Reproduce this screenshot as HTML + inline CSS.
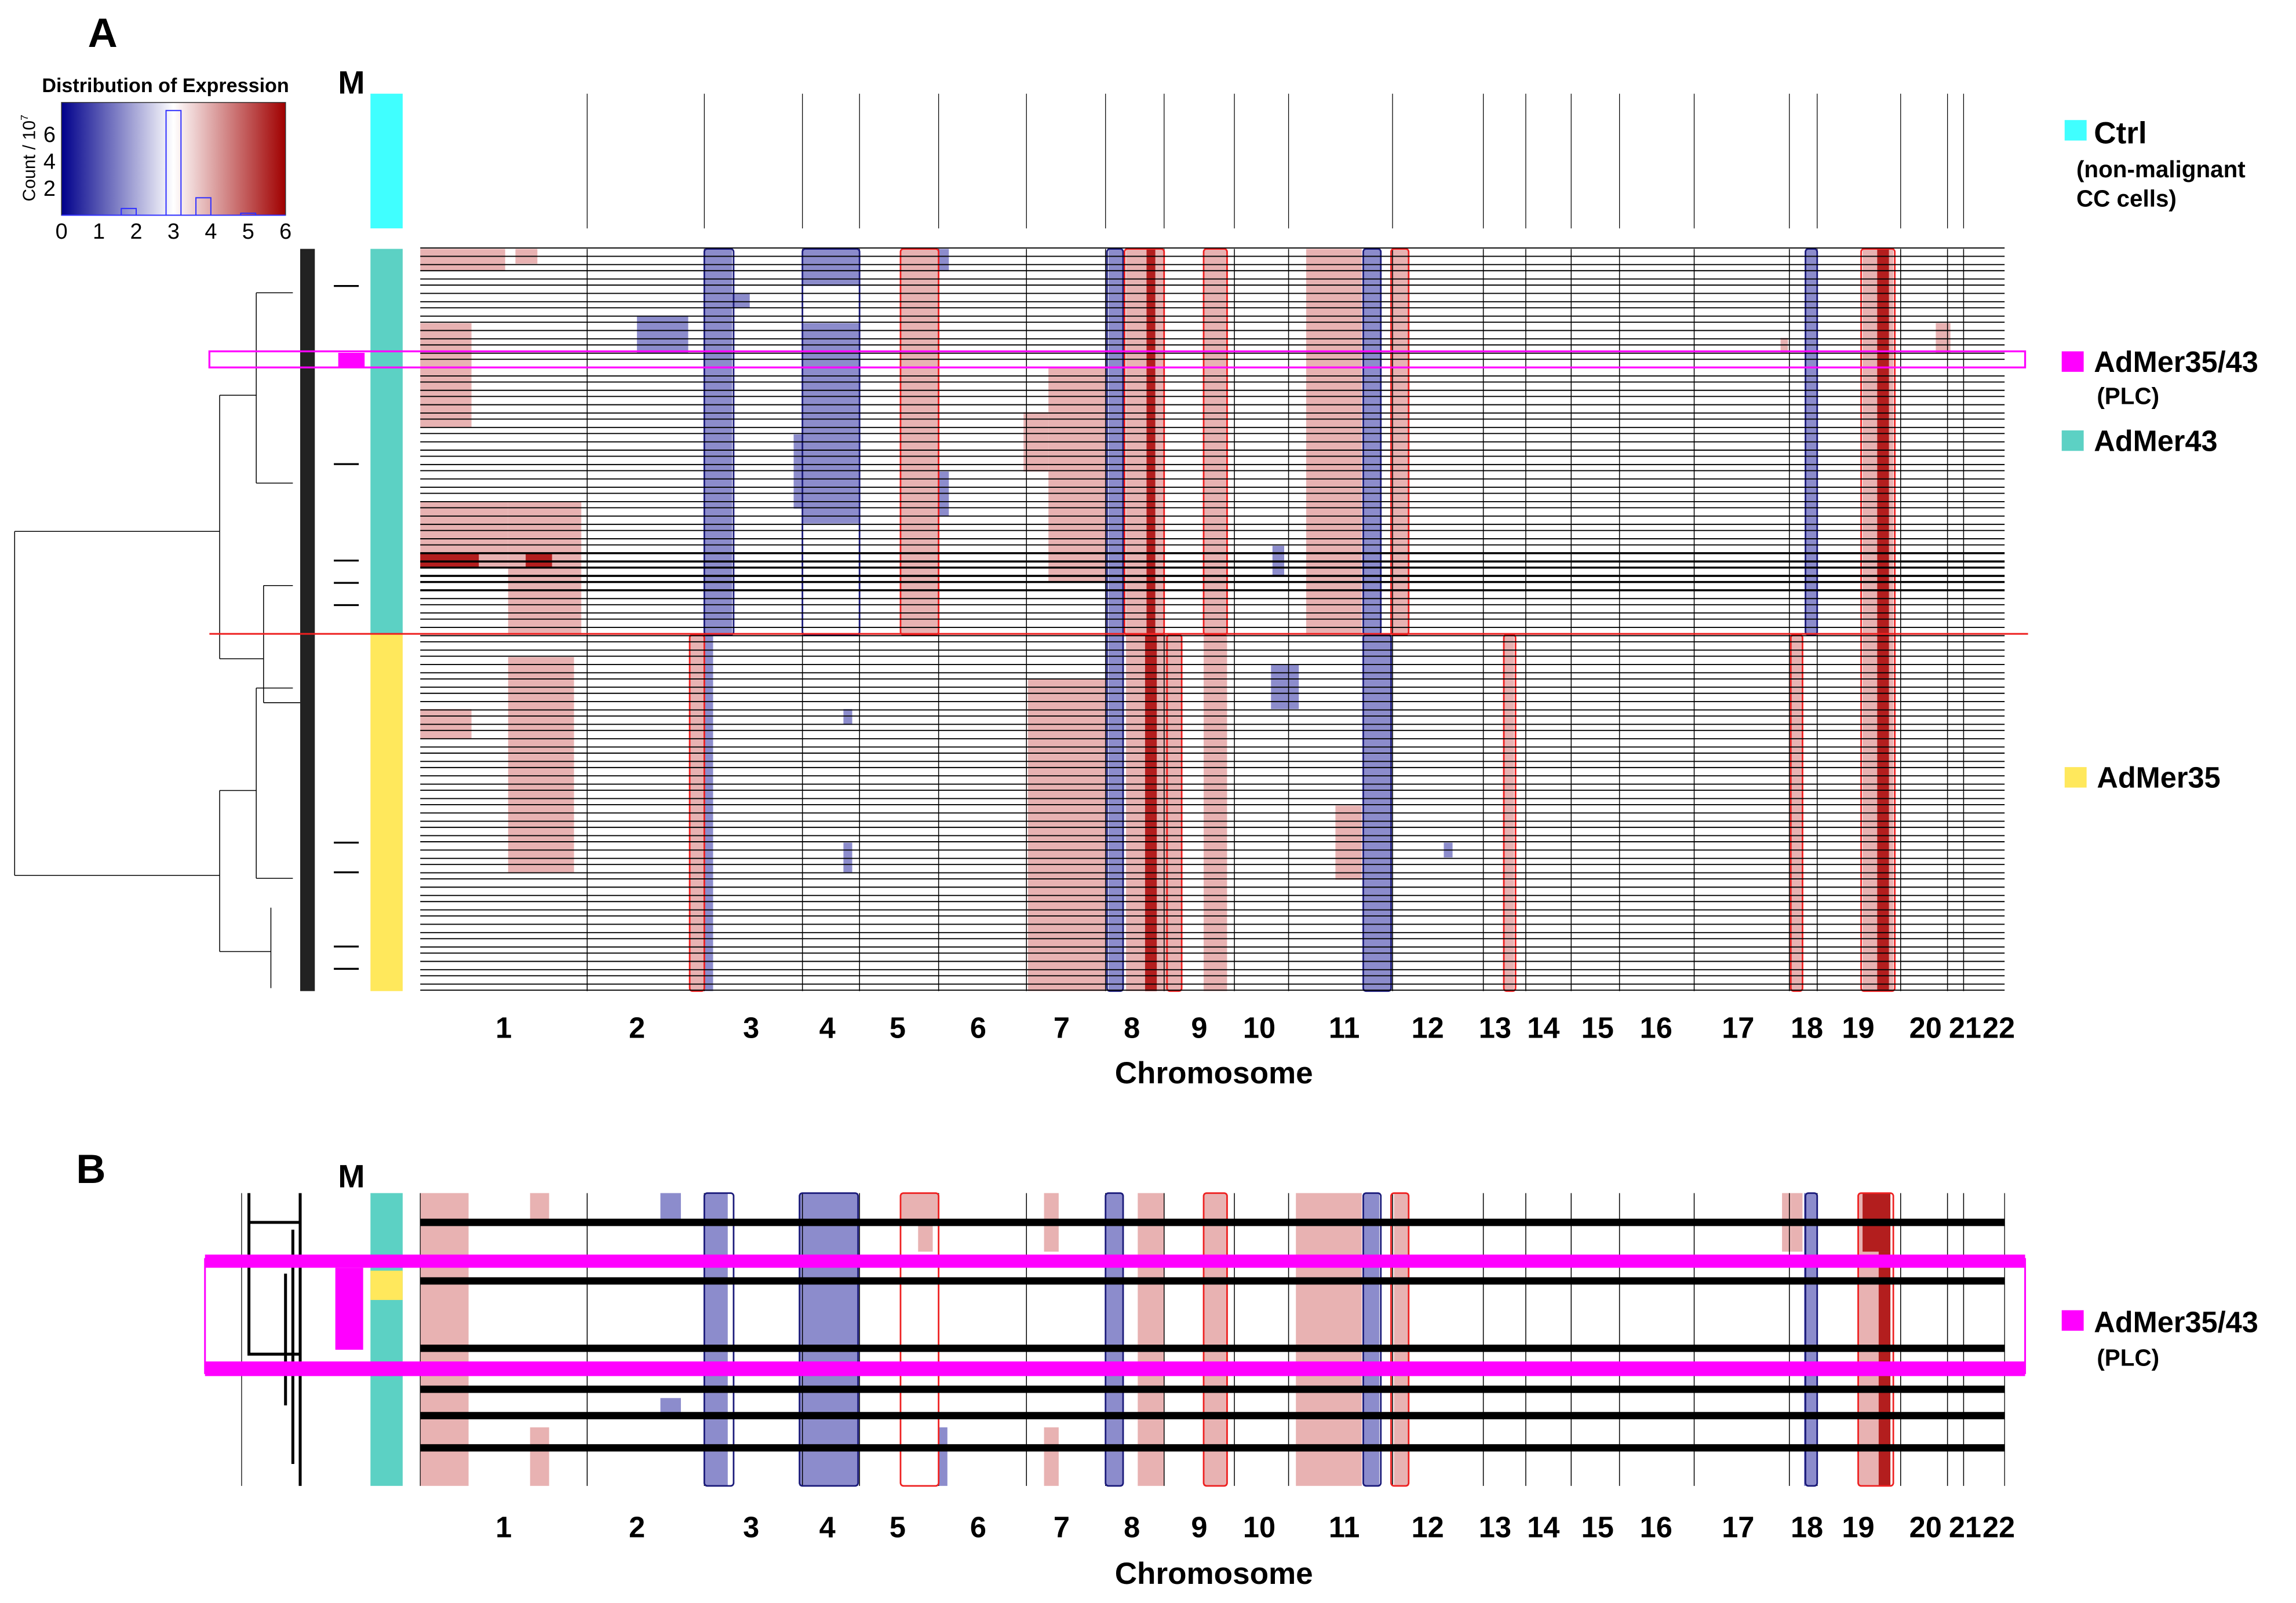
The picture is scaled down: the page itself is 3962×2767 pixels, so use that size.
<!DOCTYPE html>
<html><head><meta charset="utf-8"><style>html,body{margin:0;padding:0;background:#fff}svg{display:block}text{font-family:"Liberation Sans",Arial,sans-serif}</style></head>
<body>
<svg id="fig" width="3962" height="2767" viewBox="0 0 1568 1095" preserveAspectRatio="none" xmlns="http://www.w3.org/2000/svg">
<defs><linearGradient id="cg" x1="0" x2="1"><stop offset="0" stop-color="#00008b"/><stop offset="0.5" stop-color="#ffffff"/><stop offset="1" stop-color="#a00000"/></linearGradient></defs>
<rect width="1568" height="1095" fill="#fff"/>
<text x="60" y="32" font-size="28" font-weight="bold">A</text>
<text x="52" y="808" font-size="28" font-weight="bold">B</text>
<g id="legendHist"></g>
<g id="panelA"></g>
<g id="panelB"></g>
<g font-weight="bold">
<rect x="1410" y="82" width="15" height="14" fill="#40ffff"/>
<text x="1430" y="98" font-size="21">Ctrl</text>
<text x="1418" y="121" font-size="16">(non-malignant</text>
<text x="1418" y="141" font-size="16">CC cells)</text>
<rect x="1408" y="240" width="15" height="14" fill="#ff00ff"/>
<text x="1430" y="254" font-size="20">AdMer35/43</text>
<text x="1432" y="276" font-size="16">(PLC)</text>
<rect x="1408" y="294" width="15" height="14" fill="#5cd1c4"/>
<text x="1430" y="308" font-size="20">AdMer43</text>
<rect x="1410" y="524" width="15" height="14" fill="#ffe85c"/>
<text x="1432" y="538" font-size="20">AdMer35</text>
<rect x="1408" y="895" width="15" height="14" fill="#ff00ff"/>
<text x="1430" y="910" font-size="20">AdMer35/43</text>
<text x="1432" y="933" font-size="16">(PLC)</text>
</g>
</svg>
<script>
const chrBounds=[0,114,194,261,300,354,414,468,508,556,593,664,726,755,786,819,870,935,954,1011,1043,1054,1082];
const chrNames=["1","2","3","4","5","6","7","8","9","10","11","12","13","14","15","16","17","18","19","20","21","22"];
const chrLabelPos=[57,148,226,278,326,381,438,486,532,573,631,688,734,767,804,844,900,947,982,1028,1055,1078];
const histBins=[1.8,3.0,3.8,5.0];
const histCounts=[0.5,7.8,1.3,0.15];
const histXTicks=[0,1,2,3,4,5,6];
const histYTicks=[2,4,6];
const blocksA=[
[0,58,0,3,'g'],[65,80,0,2,'g'],[0,35,10,24,'g'],[0,60,34,43,'g'],[0,40,41,43,'G'],[60,110,34,52,'g'],[72,90,41,43,'G'],
[148,183,9,14,'l'],[194,213,0,52,'l'],[213,225,6,8,'l'],[261,300,0,5,'l'],[261,300,10,37,'l'],[255,262,25,35,'l'],
[328,354,0,52,'g'],[354,361,0,3,'l'],[354,361,30,36,'l'],[429,468,16,45,'g'],[412,429,22,30,'g'],
[470,480,0,100,'l'],[482,508,0,52,'g'],[496,502,0,52,'G'],[535,551,0,52,'g'],[605,643,0,52,'g'],[620,643,5,40,'g'],[582,590,40,44,'l'],
[644,656,0,100,'l'],[663,675,0,52,'g'],[946,954,0,52,'l'],[985,1006,0,100,'g'],[995,1003,0,100,'G'],[1035,1045,10,14,'g'],[929,934,12,14,'g'],
[0,35,62,66,'g'],[60,105,55,84,'g'],[184,194,52,100,'g'],[194,200,52,100,'l'],[415,468,58,100,'g'],[482,520,52,100,'g'],[495,503,52,100,'G'],
[535,551,52,100,'g'],[581,600,56,62,'l'],[625,643,75,85,'g'],[644,663,52,100,'l'],[740,747,52,100,'g'],[936,944,52,100,'g'],[699,705,80,82,'l'],[289,295,62,64,'l'],[289,295,80,84,'l']
];
const boxesA=[
[194,214,0,52,'b'],[261,300,0,52,'b'],[328,354,0,52,'r'],[469,480,0,100,'b'],[481,508,0,52,'r'],[535,551,0,52,'r'],
[644,656,0,52,'b'],[663,675,0,52,'r'],[946,954,0,52,'b'],[984,1007,0,100,'r'],
[184,194,52,100,'r'],[510,520,52,100,'r'],[644,663,52,100,'b'],[740,748,52,100,'r'],[936,944,52,100,'r']
];
const blocksB=[
[0,33,0,10,'g'],[75,88,0,1,'g'],[75,88,8,10,'g'],[164,178,0,1,'l'],[164,178,7,7.5,'l'],[194,210,0,10,'l'],[259,299,0,10,'l'],
[328,354,0,1,'g'],[340,350,1,2,'g'],[354,360,8,10,'l'],[426,436,0,2,'g'],[426,436,8,10,'g'],[468,480,0,10,'l'],[490,508,0,10,'g'],
[535,551,0,10,'g'],[598,643,0,10,'g'],[622,634,3,5,'g'],[644,655,0,10,'l'],[665,675,0,10,'g'],[936,944,0,2,'g'],
[945,954,0,10,'l'],[930,936,0,2,'g'],[982,1004,0,10,'g'],[985,1004,0,2,'G'],[996,1004,2,10,'G']
];
const boxesB=[[194,214,0,10,'b'],[259,299,0,10,'b'],[328,354,0,10,'r'],[468,480,0,10,'b'],[535,551,0,10,'r'],[644,656,0,10,'b'],[663,675,0,10,'r'],[946,954,0,10,'b'],[982,1006,0,10,'r']];
const rowLinesB=[1,3,5.3,6.7,7.6,8.7];
const dendroTicks=[5,29,42,45,48,80,84,94,97];

const NS='http://www.w3.org/2000/svg';
function el(tag,attrs,parent){const e=document.createElementNS(NS,tag);for(const k in attrs)e.setAttribute(k,attrs[k]);parent.appendChild(e);return e;}
const X0=287,X1=1369;
const gx=g=>X0+g*(X1-X0)/1082;
const fill={g:'#e8b2b2',G:'#b31e1e',l:'#8c8ccc'};
const strokeC={b:'#1a1a7a',r:'#ee2020'};

(function(){
 const L=document.getElementById('legendHist');
 const hx=v=>42+v*(195-42)/6, hy=v=>147-v*(147-70)/8.4;
 const t=el('text',{x:113,y:63,'font-size':13.5,'font-weight':'bold','text-anchor':'middle'},L);t.textContent='Distribution of Expression';
 
 el('rect',{x:42,y:70,width:153,height:77,fill:'url(#cg)',stroke:'#333','stroke-width':0.6},L);
 histBins.forEach((b,i)=>{const r=el('rect',{x:hx(b-0.2),y:hy(histCounts[i]),width:hx(0.4)-hx(0),height:147-hy(histCounts[i]),fill:'none',stroke:'#3030ff','stroke-width':0.8},L);
  });
 el('line',{x1:42,y1:147,x2:195,y2:147,stroke:'#3030ff','stroke-width':0.8},L);
 histXTicks.forEach(v=>{const tt=el('text',{x:hx(v),y:163,'font-size':15,'text-anchor':'middle'},L);tt.textContent=v;
  });
 histYTicks.forEach(v=>{const tt=el('text',{x:38,y:hy(v)+5,'font-size':15,'text-anchor':'end'},L);tt.textContent=v;
  });
 const yl=el('text',{x:0,y:0,'font-size':12,'text-anchor':'middle',transform:'translate(24,108) rotate(-90)'},L);yl.innerHTML='Count / 10<tspan font-size="7" dy="-5">7</tspan>';
 
})();

function drawHeat(G,blocks,boxes,yTop,yBot,nRows){
 const ry=r=>yTop+r*(yBot-yTop)/nRows;
 blocks.forEach(b=>{const r=el('rect',{x:gx(b[0]),y:ry(b[2]),width:gx(b[1])-gx(b[0]),height:ry(b[3])-ry(b[2]),fill:fill[b[4]]},G);
  });
 chrBounds.slice(1,-1).forEach(c=>{const l=el('line',{x1:gx(c),x2:gx(c),y1:yTop,y2:yBot,stroke:'#000','stroke-width':0.6},G);
  });
 boxes.forEach(b=>{const r=el('rect',{x:gx(b[0]),y:ry(b[2]),width:gx(b[1])-gx(b[0]),height:ry(b[3])-ry(b[2]),fill:'none',stroke:strokeC[b[4]],'stroke-width':1.1,rx:2},G);
  });
 return ry;
}
function drawLabels(G,y,yc){
 chrNames.forEach((n,i)=>{const t=el('text',{x:gx(chrLabelPos[i]),y:y,'font-size':20,'font-weight':'bold','text-anchor':'middle'},G);t.textContent=n;
  });
 const t=el('text',{x:829,y:yc,'font-size':21,'font-weight':'bold','text-anchor':'middle'},G);t.textContent='Chromosome';
 
}

(function(){
 const G=document.getElementById('panelA');
 const m=el('text',{x:240,y:64,'font-size':22,'font-weight':'bold','text-anchor':'middle'},G);m.textContent='M';
 
 const c=el('rect',{x:253,y:64,width:22,height:92,fill:'#40ffff'},G);
 chrBounds.slice(1,-1).forEach(b=>{const l=el('line',{x1:gx(b),x2:gx(b),y1:64,y2:156,stroke:'#000','stroke-width':0.5},G);
  });
 const ry=drawHeat(G,blocksA,boxesA,170,677,100);
 for(let r=0;r<=100;r++){const y=ry(r)+((r*37)%5-2)*0.3;const w=(r>=41&&r<=46)?1.4:0.75;
  const l=el('line',{x1:X0,x2:X1,y1:y,y2:y,stroke:'#000','stroke-width':w},G);}
 const a=el('rect',{x:253,y:170,width:22,height:263,fill:'#5cd1c4'},G);
 const b=el('rect',{x:253,y:433,width:22,height:244,fill:'#ffe85c'},G);
 const p=el('rect',{x:231,y:241,width:18,height:10,fill:'#ff00ff'},G);
 dendroTicks.forEach(r=>{const l=el('line',{x1:228,x2:245,y1:ry(r),y2:ry(r),stroke:'#000','stroke-width':1.3},G);});
 const d=el('path',{d:'M10,363 V598 M10,363 H150 M10,598 H150 M150,270 V450 M150,540 V650 M150,270 H175 M150,450 H180 M150,540 H175 M150,650 H185 M175,200 V330 M180,400 V480 M175,470 V600 M185,620 V675 M175,200 H200 M175,330 H200 M180,400 H200 M180,480 H205 M175,470 H200 M175,600 H200',fill:'none',stroke:'#000','stroke-width':0.6},G);
 
 const lv=el('rect',{x:205,y:170,width:10,height:507,fill:'#222'},G);
 const rl=el('line',{x1:143,x2:1385,y1:433,y2:433,stroke:'#ee2020','stroke-width':1.2},G);
 const mg=el('rect',{x:143,y:240,width:1240,height:11,fill:'none',stroke:'#ff00ff','stroke-width':1.3},G);
 drawLabels(G,709,740);
})();

(function(){
 const G=document.getElementById('panelB');
 const m=el('text',{x:240,y:811,'font-size':22,'font-weight':'bold','text-anchor':'middle'},G);m.textContent='M';
 
 const ry=drawHeat(G,blocksB,boxesB,815,1015,10);
 const ext=el('path',{d:'M'+gx(0)+',815 V1015 M165,815 V1015 M'+X1+',815 V1015',stroke:'#000','stroke-width':0.5},G);
 rowLinesB.forEach(r=>{const l=el('line',{x1:X0,x2:X1,y1:ry(r),y2:ry(r),stroke:'#000','stroke-width':5},G);});
 const t=el('rect',{x:253,y:815,width:22,height:200,fill:'#5cd1c4'},G);
 const y=el('rect',{x:253,y:868,width:22,height:20,fill:'#ffe85c'},G);
 const p=el('rect',{x:229,y:866,width:19,height:56,fill:'#ff00ff'},G);
 const d=el('path',{d:'M170,815 V925 H205 M170,835 H205 M205,815 V1015 M200,840 V1000 M195,870 V960',fill:'none',stroke:'#000','stroke-width':2},G);
 const o=el('rect',{x:140,y:860,width:1243,height:78,fill:'none',stroke:'#ff00ff','stroke-width':1.2},G);
 const b1=el('rect',{x:140,y:857,width:1243,height:9,fill:'#ff00ff'},G);
 const b2=el('rect',{x:140,y:930,width:1243,height:10,fill:'#ff00ff'},G);
 drawLabels(G,1050,1082);
})();
</script>
</body></html>
